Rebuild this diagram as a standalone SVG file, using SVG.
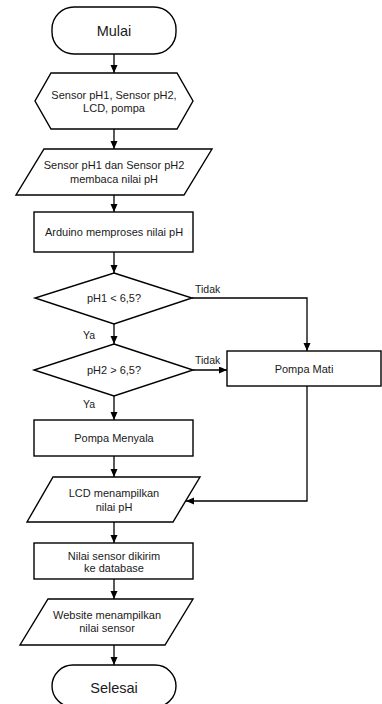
<svg xmlns="http://www.w3.org/2000/svg" width="382" height="704" viewBox="0 0 382 704">
<style>
.s{fill:#fff;stroke:#000;stroke-width:1.4}
.t{font-family:"Liberation Sans",Arial,sans-serif;font-size:11px;fill:#1a1a1a;text-anchor:middle;dominant-baseline:central}
.tt{font-family:"Liberation Sans",Arial,sans-serif;font-size:14.5px;fill:#1a1a1a;text-anchor:middle;dominant-baseline:central}
.l{font-family:"Liberation Sans",Arial,sans-serif;font-size:10.5px;fill:#1a1a1a}
.c{fill:none;stroke:#000;stroke-width:1.3;marker-end:url(#a)}
</style>
<defs>
<marker id="a" markerUnits="userSpaceOnUse" markerWidth="9" markerHeight="8" refX="8" refY="3.5" orient="auto">
<path d="M0,0 L8,3.5 L0,7 z" fill="#000"/>
</marker>
</defs>
<rect width="382" height="704" fill="#fff"/>
<g id="connectors">
<path class="c" d="M114,54 V73"/>
<path class="c" d="M114,129 V149"/>
<path class="c" d="M114,195 V212"/>
<path class="c" d="M114,252 V273"/>
<path class="c" d="M114,324 V344"/>
<path class="c" d="M114,396 V420"/>
<path class="c" d="M114,456 V477"/>
<path class="c" d="M114,522 V543"/>
<path class="c" d="M114,579 V599"/>
<path class="c" d="M114,645 V665"/>
<path class="c" d="M192,298 H307 V351"/>
<path class="c" d="M193,370 H227"/>
<path class="c" d="M307,386 V501 H186"/>
<text class="l" x="195" y="293">Tidak</text>
<text class="l" x="83" y="339">Ya</text>
<text class="l" x="195" y="364">Tidak</text>
<text class="l" x="83" y="408">Ya</text>
</g>
<g id="mulai">
<rect class="s" x="52" y="7" width="124" height="47" rx="22"/>
<text class="tt" x="114" y="31">Mulai</text>
</g>
<g id="init">
<polygon class="s" points="51,73 177,73 193,101 177,129 51,129 35,101"/>
<text class="t" x="114" y="95">Sensor pH1, Sensor pH2,</text>
<text class="t" x="114" y="108">LCD, pompa</text>
</g>
<g id="baca">
<polygon class="s" points="44,149 212,149 184,195 16,195"/>
<text class="t" x="114" y="165">Sensor pH1 dan Sensor pH2</text>
<text class="t" x="114" y="179">membaca nilai pH</text>
</g>
<g id="proses">
<rect class="s" x="34" y="212" width="159" height="40"/>
<text class="t" x="114" y="232">Arduino memproses nilai pH</text>
</g>
<g id="cek1">
<polygon class="s" points="114,273 192,298 114,324 35,298"/>
<text class="t" x="114" y="298">pH1 &lt; 6,5?</text>
</g>
<g id="cek2">
<polygon class="s" points="114,344 193,370 114,396 34,370"/>
<text class="t" x="114" y="370">pH2 &gt; 6,5?</text>
</g>
<g id="mati">
<rect class="s" x="227" y="351" width="154" height="35"/>
<text class="t" x="304" y="369">Pompa Mati</text>
</g>
<g id="nyala">
<rect class="s" x="34" y="420" width="159" height="36"/>
<text class="t" x="114" y="438">Pompa Menyala</text>
</g>
<g id="lcd">
<polygon class="s" points="53,477 200,477 173,522 27,522"/>
<text class="t" x="114" y="493">LCD menampilkan</text>
<text class="t" x="114" y="507">nilai pH</text>
</g>
<g id="kirim">
<rect class="s" x="34" y="543" width="159" height="36"/>
<text class="t" x="114" y="556">Nilai sensor dikirim</text>
<text class="t" x="114" y="568">ke database</text>
</g>
<g id="website">
<polygon class="s" points="48,599 193,599 165,645 20,645"/>
<text class="t" x="107" y="615">Website menampilkan</text>
<text class="t" x="107" y="628">nilai sensor</text>
</g>
<g id="selesai">
<rect class="s" x="52" y="665" width="124" height="42" rx="21"/>
<text class="tt" x="114" y="688">Selesai</text>
</g>
</svg>
